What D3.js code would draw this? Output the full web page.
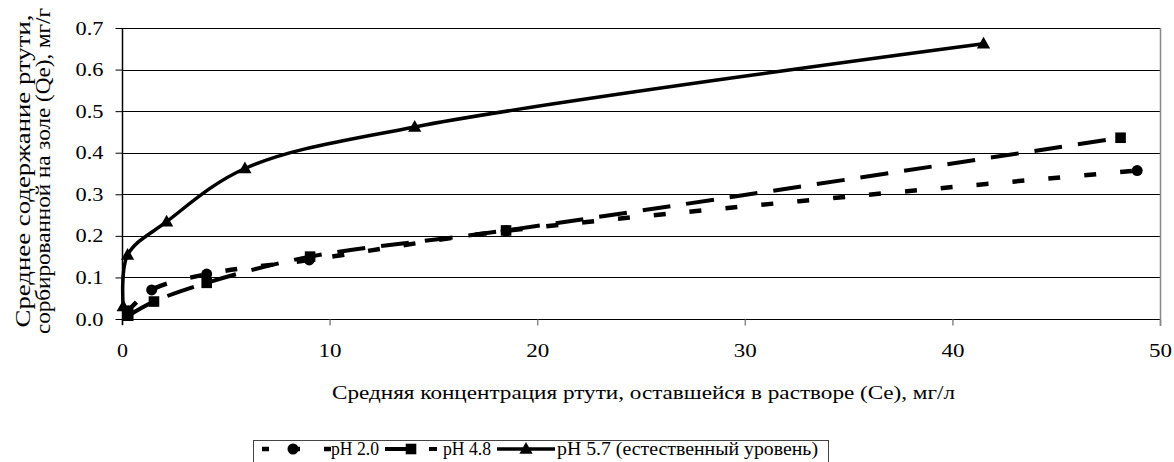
<!DOCTYPE html>
<html>
<head>
<meta charset="utf-8">
<script src="https://cdn.jsdelivr.net/npm/d3@7"></script>
<style>
  body { margin: 0; background: #fff; }
  svg { display: block; }
  svg text { font-family: "Liberation Serif", "Times New Roman", serif; }
</style>
</head>
<body>
<svg id="chart"></svg>
<script>
// data
const xTicks = [0, 10, 20, 30, 40, 50]
const yTicks = [0, 0.1, 0.2, 0.3, 0.4, 0.5, 0.6, 0.7]
const seriesNames = ['pH 2.0', 'pH 4.8', 'pH 5.7 (естественный уровень)']

const ce20 = [0.3, 1.43, 4.08, 9.02, 18.5, 48.9]
const qe20 = [0.02, 0.07, 0.108, 0.142, 0.212, 0.357]
const ce48 = [0.3, 1.54, 4.08, 9.06, 18.5, 48.1]
const qe48 = [0.008, 0.042, 0.087, 0.15, 0.213, 0.436]
const ce57 = [0.06, 0.27, 2.15, 5.92, 14.1, 41.5]
const qe57 = [0.03, 0.154, 0.234, 0.362, 0.462, 0.662]

const xTitle = 'Средняя концентрация ртути, оставшейся в растворе (Ce), мг/л'
const yTitle = ['Среднее содержание ртути,', 'сорбированной на золе (Qe), мг/г']

const width = 1174
const height = 462
const serif = 'Liberation Serif, Times New Roman, serif'

const svg = d3.select('#chart')
  .attr('width', width)
  .attr('height', height)
  .attr('viewBox', `0,0,${width},${height}`)
  .attr('font-family', serif)

svg.append('rect').attr('width', width).attr('height', height).attr('fill', '#fff')

const x = d3.scaleLinear().domain([0, 50]).range([122, 1160])
const y = d3.scaleLinear().domain([0, 0.7]).range([319, 28])

const fit = (sel, len) => sel.attr('textLength', len).attr('lengthAdjust', 'spacingAndGlyphs')

// gridlines
svg.append('g')
  .selectAll('line')
  .data(yTicks)
  .join('line')
  .attr('x1', x(0))
  .attr('x2', x(50))
  .attr('y1', (d) => Math.round(y(d)) + 0.5)
  .attr('y2', (d) => Math.round(y(d)) + 0.5)
  .attr('stroke', '#000')
  .attr('stroke-width', 1)

// right border
svg.append('line')
  .attr('x1', x(50) + 0.5).attr('x2', x(50) + 0.5)
  .attr('y1', y(0.7)).attr('y2', y(0) + 7)
  .attr('stroke', '#888').attr('stroke-width', 1.5)

// x axis
const gx = svg.append('g')
  .attr('transform', `translate(0,${Math.round(y(0)) + 0.5})`)
  .call(d3.axisBottom(x).tickValues(xTicks).tickSize(6).tickPadding(18).tickFormat(d3.format('d')))
  .attr('font-family', serif)
gx.select('.domain').remove()
gx.selectAll('.tick line').attr('stroke', '#888').attr('stroke-width', 1.5)
gx.selectAll('.tick text')
  .attr('font-family', serif)
  .attr('font-size', 19)
  .attr('fill', '#000')
  .each(function (d) { fit(d3.select(this), d === 0 ? 11 : 23) })

// y axis
const gy = svg.append('g')
  .attr('transform', `translate(${x(0) + 0.5},0)`)
  .call(d3.axisLeft(y).tickValues(yTicks).tickSize(7).tickPadding(12).tickFormat(d3.format('.1f')))
  .attr('font-family', serif)
gy.select('.domain').remove()
gy.selectAll('.tick line').attr('stroke', '#000')
gy.selectAll('.tick text')
  .attr('font-family', serif)
  .attr('font-size', 19)
  .attr('fill', '#000')
  .call(fit, 28)

svg.append('line')
  .attr('x1', x(0) + 0.5).attr('x2', x(0) + 0.5)
  .attr('y1', y(0.7)).attr('y2', y(0) + 6)
  .attr('stroke', '#000').attr('stroke-width', 1.5)

// series
const series = [
  { name: seriesNames[0], xs: ce20, ys: qe20, dash: '12,24', sw: 4.5, marker: 'circle' },
  { name: seriesNames[1], xs: ce48, ys: qe48, dash: '28,16', sw: 4, marker: 'square' },
  { name: seriesNames[2], xs: ce57, ys: qe57, dash: null, sw: 3.5, marker: 'triangle' }
]

const line = d3.line()
  .x((d) => x(d[0]))
  .y((d) => y(d[1]))
  .curve(d3.curveCatmullRom.alpha(0.5))

const markerPath = {
  circle: d3.symbol(d3.symbolCircle, 95)(),
  square: 'M-5.3,-5.3H5.3V5.3H-5.3Z',
  triangle: 'M0,-7L6.6,4.8H-6.6Z'
}

series.forEach((s) => {
  const pts = s.xs.map((v, i) => [v, s.ys[i]])
  svg.append('path')
    .datum(pts)
    .attr('d', line)
    .attr('fill', 'none')
    .attr('stroke', '#000')
    .attr('stroke-width', s.sw)
    .attr('stroke-dasharray', s.dash)
  svg.append('g')
    .selectAll('path')
    .data(pts)
    .join('path')
    .attr('transform', (d) => `translate(${x(d[0])},${y(d[1])})`)
    .attr('d', markerPath[s.marker])
    .attr('fill', '#000')
})

// axis titles
svg.append('text')
  .attr('x', 332)
  .attr('y', 399)
  .attr('font-size', 19)
  .text(xTitle)
  .call(fit, 623)

const yLines = [{ t: yTitle[0], bx: 30, len: 313 }, { t: yTitle[1], bx: 50, len: 326 }]
yLines.forEach((l) => {
  svg.append('text')
    .attr('transform', `translate(${l.bx},171) rotate(-90)`)
    .attr('text-anchor', 'middle')
    .attr('font-size', 20)
    .text(l.t)
    .call(fit, l.len)
})

// legend
const legend = svg.append('g')
legend.append('rect')
  .attr('x', 253.5).attr('y', 440.5)
  .attr('width', 575).attr('height', 40)
  .attr('fill', '#fff')
  .attr('stroke', '#444')

const legendItems = [
  { x1: 262, x2: 331, mx: 293, dash: '7,24', tx: 331, tl: 48 },
  { x1: 385, x2: 437, mx: 411, dash: '28,16', tx: 443, tl: 48 },
  { x1: 497, x2: 555, mx: 526, dash: null, tx: 557, tl: 261 }
]
legendItems.forEach((it, i) => {
  const s = series[i]
  legend.append('line')
    .attr('x1', it.x1).attr('x2', it.x2)
    .attr('y1', 449).attr('y2', 449)
    .attr('stroke', '#000')
    .attr('stroke-width', s.sw)
    .attr('stroke-dasharray', it.dash)
  legend.append('path')
    .attr('transform', `translate(${it.mx},449)`)
    .attr('d', markerPath[s.marker])
    .attr('fill', '#000')
  legend.append('text')
    .attr('x', it.tx)
    .attr('y', 455)
    .attr('font-size', 19)
    .text(s.name)
    .call(fit, it.tl)
})
</script>
</body>
</html>
